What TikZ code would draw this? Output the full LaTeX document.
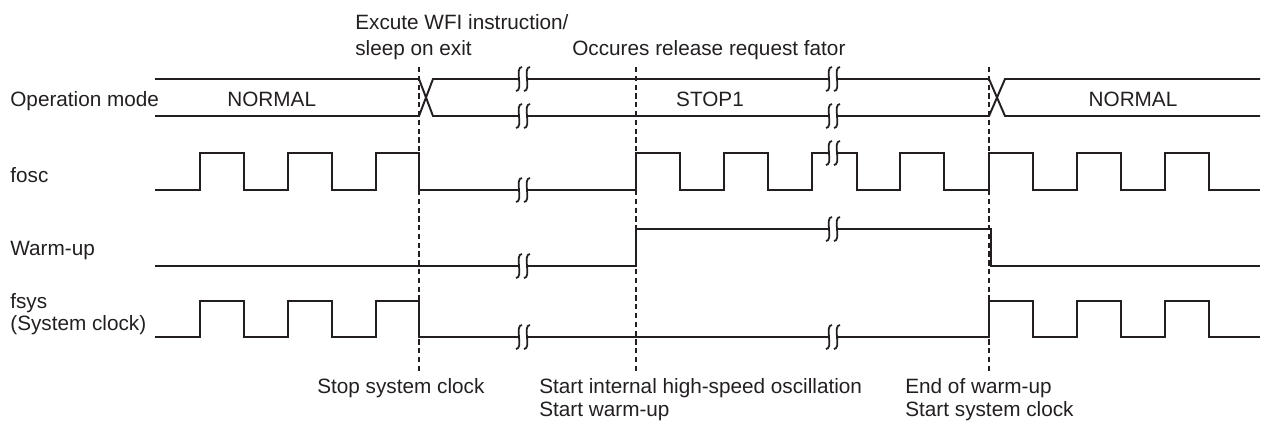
\documentclass[tikz,border=0pt]{standalone}
\usepackage{fontspec}
\setmainfont{Liberation Sans}
\definecolor{Trace}{HTML}{231F20}
\newcommand{\sigfont}{\fontsize{11.8pt}{13.6pt}\selectfont}
\tikzset{
  wave/.style={draw=Trace, line width=1.1pt, line join=miter},
  marker/.style={draw=Trace, line width=1pt, dash pattern=on 3pt off 2pt},
  brk/.style={draw=Trace, line width=1pt},
  siglab/.style={font=\sigfont, text=Trace, anchor=base west, inner sep=0pt},
  modelab/.style={font=\sigfont, text=Trace, anchor=base, inner sep=0pt},
}
\newcommand{\brkmark}[2]{%
  \fill[white] (#1-4,#2-3) rectangle (#1+4,#2+3);
  \draw[brk] (#1-1,#2-12) .. controls (#1-9,#2-12) and (#1+1,#2+12) .. (#1-7,#2+12);
  \draw[brk] (#1+7,#2-12) .. controls (#1-1,#2-12) and (#1+9,#2+12) .. (#1+1,#2+12);
}

\begin{document}
\begin{tikzpicture}[x=0.02cm, y=-0.02cm]
    \useasboundingbox (0,0) rectangle (1261,424);
    \draw[marker] (419,67) -- (419,372);
    \draw[marker] (636,67) -- (636,372);
    \draw[marker] (989,67) -- (989,372);
    \draw[wave] (155,79) -- (419,79) -- (433,116) -- (989,116) -- (1005,79) -- (1260,79);
    \draw[wave] (155,116) -- (419,116) -- (433,79) -- (989,79) -- (1005,116) -- (1260,116);
    \draw[wave] (155,190) -| (200,153) -| (244,190) -| (288,153) -| (332,190) -| (376,153) -| (419,190) -| (636,153) -| (680,190) -| (724,153) -| (768,190) -| (812,153) -| (857,190) -| (900,153) -| (944,190) -| (989,153) -| (1033,190) -| (1077,153) -| (1121,190) -| (1165,153) -| (1209,190) -- (1260,190);
    \draw[wave] (155,266) -| (636,229) -| (991,266) -- (1260,266);
    \draw[wave] (155,337) -| (200,301) -| (244,337) -| (288,301) -| (332,337) -| (376,301) -| (419,337) -| (989,301) -| (1033,337) -| (1077,301) -| (1121,337) -| (1165,301) -| (1209,337) -- (1260,337);
    \brkmark{523}{79}
    \brkmark{523}{116}
    \brkmark{833}{79}
    \brkmark{833}{116}
    \brkmark{523}{190}
    \brkmark{833}{153}
    \brkmark{523}{266}
    \brkmark{833}{229}
    \brkmark{523}{337}
    \brkmark{833}{337}
    \node[siglab] (opmode) at (10,106) {Operation mode};
    \node[siglab] (fosc) at (10,182) {fosc};
    \node[siglab] (warmup) at (10,255) {Warm-up};
    \node[siglab] (fsys) at (10,308) {fsys};
    \node[siglab] (fsysdesc) at (10,330) {(System clock)};
    \node[siglab] (normalA) at (227,106) {NORMAL};
    \node[modelab] (stopone) at (710,106) {STOP1};
    \node[modelab] (normalB) at (1133,106) {NORMAL};
    \node[siglab] (wfiA) at (355,29) {Excute WFI instruction/};
    \node[siglab] (wfiB) at (355,55) {sleep on exit};
    \node[siglab] (release) at (572,55) {Occures release request fator};
    \node[siglab] (stopclk) at (317,393) {Stop system clock};
    \node[siglab] (oscA) at (539,393) {Start internal high-speed oscillation};
    \node[siglab] (oscB) at (539,416) {Start warm-up};
    \node[siglab] (endA) at (905,393) {End of warm-up};
    \node[siglab] (endB) at (905,416) {Start system clock};
  \end{tikzpicture}
\end{document}
